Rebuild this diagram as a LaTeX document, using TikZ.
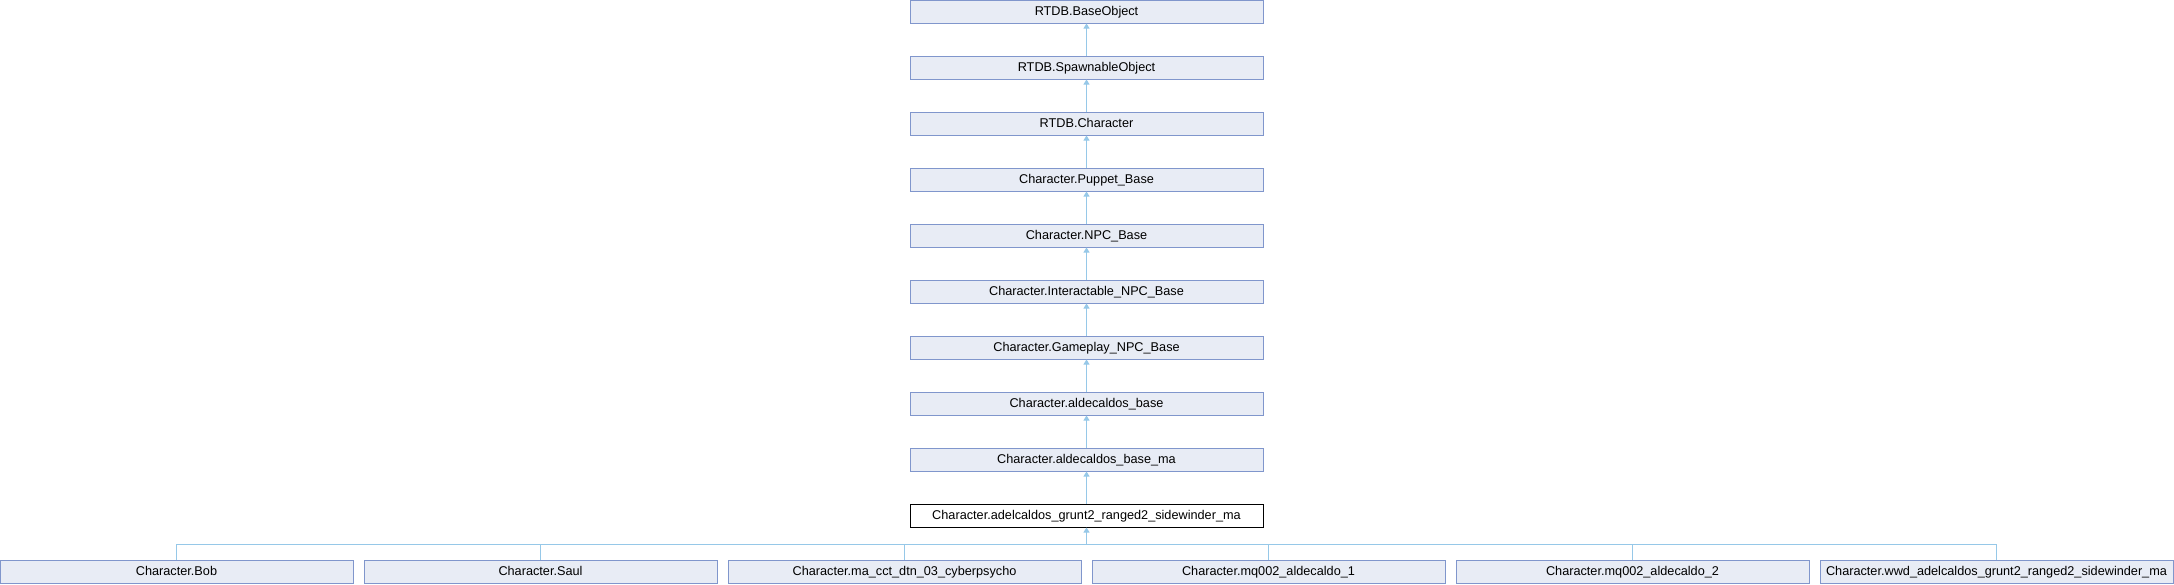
\documentclass[tikz,border=0pt]{standalone}
\usepackage{fontspec}
\setmainfont{Liberation Sans}
\usetikzlibrary{arrows.meta}
\definecolor{clsfill}{RGB}{232,236,245}
\definecolor{clsborder}{RGB}{128,150,204}
\definecolor{edgeblue}{RGB}{150,200,232}
\begin{document}
\begin{tikzpicture}[x={(1pt,0pt)},y={(0pt,-1pt)},
    cls/.style={draw=clsborder,fill=clsfill,line width=1pt,
      minimum width=353pt,minimum height=23pt,inner sep=0pt,
      text height=9.5pt,text depth=2.5pt,
      font=\fontsize{12.7}{14}\selectfont},
    cur/.style={cls,draw=black,fill=white},
    link/.style={draw=edgeblue,line width=1pt},
    inherit/.style={link,-{Triangle[length=5pt,width=6pt]}}]
      \useasboundingbox (0,0) rectangle (2174,584);
      \draw
        (1086.5,11.5) node[cls] (base){RTDB.BaseObject}
        (1086.5,67.5) node[cls] (spawn){RTDB.SpawnableObject}
        (1086.5,123.5) node[cls] (rchar){RTDB.Character}
        (1086.5,179.5) node[cls] (puppet){Character.Puppet\_Base}
        (1086.5,235.5) node[cls] (npc){Character.NPC\_Base}
        (1086.5,291.5) node[cls] (inter){Character.Interactable\_NPC\_Base}
        (1086.5,347.5) node[cls] (game){Character.Gameplay\_NPC\_Base}
        (1086.5,403.5) node[cls] (aldb){Character.aldecaldos\_base}
        (1086.5,459.5) node[cls] (aldma){Character.aldecaldos\_base\_ma}
        (1086.5,515.5) node[cur] (adel){Character.adelcaldos\_grunt2\_ranged2\_sidewinder\_ma}
        (176.5,571.5) node[cls] (bob){Character.Bob}
        (540.5,571.5) node[cls] (saul){Character.Saul}
        (904.5,571.5) node[cls] (cyber){Character.ma\_cct\_dtn\_03\_cyberpsycho}
        (1268.5,571.5) node[cls] (mqone){Character.mq002\_aldecaldo\_1}
        (1632.5,571.5) node[cls] (mqtwo){Character.mq002\_aldecaldo\_2}
        (1996.5,571.5) node[cls] (wwd){Character.wwd\_adelcaldos\_grunt2\_ranged2\_sidewinder\_ma};
      \coordinate (fork) at (1086.5,544);
      \begin{scope}[inherit]
        \draw (spawn) to (base);
        \draw (rchar) to (spawn);
        \draw (puppet) to (rchar);
        \draw (npc) to (puppet);
        \draw (inter) to (npc);
        \draw (game) to (inter);
        \draw (aldb) to (game);
        \draw (aldma) to (aldb);
        \draw (adel) to (aldma);
        \draw (fork) to (adel);
      \end{scope}
      \begin{scope}[link]
        \draw (bob) |- (fork);
        \draw (saul) |- (fork);
        \draw (cyber) |- (fork);
        \draw (mqone) |- (fork);
        \draw (mqtwo) |- (fork);
        \draw (wwd) |- (fork);
      \end{scope}
    \end{tikzpicture}
\end{document}
